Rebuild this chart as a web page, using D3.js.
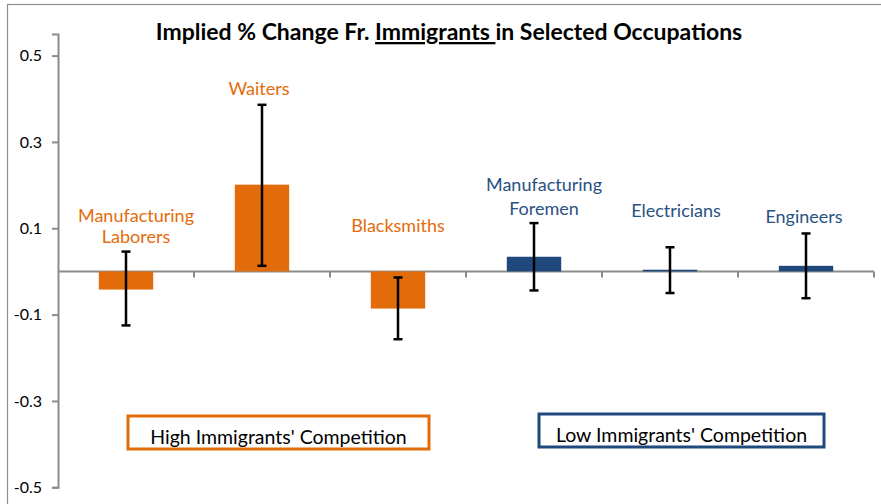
<!DOCTYPE html>
<html>
<head>
<meta charset="utf-8">
<script src="https://cdn.jsdelivr.net/npm/d3@7"></script>
<style>
  html, body { margin: 0; padding: 0; background: #fff; }
  svg { display: block; font-family: Lato, "Open Sans", sans-serif; }
</style>
</head>
<body>
<div id="chart"></div>
<script>
// occupations, point estimates and error-bar bounds
const occupations = ["Manufacturing Laborers", "Waiters", "Blacksmiths", "Manufacturing Foremen", "Electricians", "Engineers"];
const labelLines = [["Manufacturing", "Laborers"], ["Waiters"], ["Blacksmiths"], ["Manufacturing", "Foremen"], ["Electricians"], ["Engineers"]];
const groups = ["high", "high", "high", "low", "low", "low"];
const estimates = [-0.042, 0.201, -0.086, 0.034, 0.004, 0.013];
const errLower = [-0.125, 0.013, -0.157, -0.044, -0.050, -0.062];
const errUpper = [0.046, 0.386, -0.014, 0.112, 0.056, 0.088];
const yTicks = [-0.5, -0.3, -0.1, 0.1, 0.3, 0.5];
const yDomain = [-0.5, 0.55];
const groupBoxes = [
  { text: "High Immigrants' Competition", group: "high" },
  { text: "Low Immigrants' Competition", group: "low" },
];

const colors = { high: "#E36C0A", low: "#1F497D" };
const axisColor = "#8c8c8c";

// hand placement of the category labels (pixel offset from band centre, baseline y)
const labelLayout = [
  { dx: 10, y: [222, 243] },
  { dx: -3, y: [95] },
  { dx: 0, y: [232] },
  { dx: 10, y: [191, 215] },
  { dx: 6, y: [217] },
  { dx: -2, y: [223] },
];
const boxLayout = [
  { x: 128, y: 416, w: 301, h: 33 },
  { x: 539, y: 414, w: 285, h: 33 },
];

const width = 881;
const height = 504;
const plot = { left: 58, right: 874, top: 34, bottom: 487.3 };

const rows = occupations.map((name, i) => ({
  name,
  lines: labelLines[i],
  group: groups[i],
  value: estimates[i],
  lo: errLower[i],
  hi: errUpper[i],
}));

const svg = d3
  .select("#chart")
  .append("svg")
  .attr("width", width)
  .attr("height", height);

// chart frame
svg
  .append("rect")
  .attr("x", 7.5)
  .attr("y", 4.5)
  .attr("width", 1000)
  .attr("height", 1000)
  .attr("fill", "none")
  .attr("stroke", axisColor)
  .attr("stroke-width", 1.2);

const xScale = d3
  .scaleBand()
  .domain(occupations)
  .range([plot.left, plot.right])
  .paddingInner(0.6)
  .paddingOuter(0.3);

const yScale = d3.scaleLinear().domain(yDomain).range([plot.bottom, plot.top]);

// y axis
const yAxis = d3
  .axisLeft(yScale)
  .tickValues(yTicks)
  .tickSize(6)
  .tickPadding(10)
  .tickFormat((d) => d3.format(".1f")(d).replace("−", "-"));

const yAxisG = svg
  .append("g")
  .attr("transform", `translate(${plot.left}, 0)`)
  .call(yAxis);
yAxisG.select(".domain").attr("stroke", axisColor).attr("stroke-width", 2);
yAxisG.selectAll(".tick line").attr("stroke", axisColor).attr("stroke-width", 2);
yAxisG
  .selectAll(".tick text")
  .attr("fill", "#000")
  .attr("font-size", 16)
  .attr("font-family", "Lato, sans-serif");

// x axis on zero line, ticks between categories
const step = xScale.step();
const boundaries = d3.range(occupations.length + 1).map((i) => plot.left + i * step);
const xAxisG = svg.append("g");
xAxisG
  .append("line")
  .attr("x1", plot.left)
  .attr("x2", plot.right)
  .attr("y1", yScale(0))
  .attr("y2", yScale(0))
  .attr("stroke", axisColor)
  .attr("stroke-width", 2);
xAxisG
  .selectAll("line.tick")
  .data(boundaries.slice(1))
  .enter()
  .append("line")
  .attr("class", "tick")
  .attr("x1", (d) => d)
  .attr("x2", (d) => d)
  .attr("y1", yScale(0))
  .attr("y2", yScale(0) + 6)
  .attr("stroke", axisColor)
  .attr("stroke-width", 2);

// bars
svg
  .append("g")
  .selectAll("rect")
  .data(rows)
  .enter()
  .append("rect")
  .attr("x", (d) => xScale(d.name))
  .attr("width", xScale.bandwidth())
  .attr("y", (d) => yScale(Math.max(0, d.value)))
  .attr("height", (d) => Math.max(1.5, Math.abs(yScale(d.value) - yScale(0))))
  .attr("fill", (d) => colors[d.group]);

// error bars
const capHalf = 4.5;
const errG = svg
  .append("g")
  .selectAll("g")
  .data(rows)
  .enter()
  .append("g")
  .attr("stroke", "#000")
  .attr("stroke-width", 2.5);

errG
  .append("line")
  .attr("x1", (d) => xScale(d.name) + xScale.bandwidth() / 2)
  .attr("x2", (d) => xScale(d.name) + xScale.bandwidth() / 2)
  .attr("y1", (d) => yScale(d.lo))
  .attr("y2", (d) => yScale(d.hi));

["lo", "hi"].forEach((key) => {
  errG
    .append("line")
    .attr("x1", (d) => xScale(d.name) + xScale.bandwidth() / 2 - capHalf)
    .attr("x2", (d) => xScale(d.name) + xScale.bandwidth() / 2 + capHalf)
    .attr("y1", (d) => yScale(d[key]))
    .attr("y2", (d) => yScale(d[key]));
});

// category labels
const labelG = svg
  .append("g")
  .selectAll("text")
  .data(rows)
  .enter()
  .append("text")
  .attr("text-anchor", "middle")
  .attr("font-size", 18)
  .attr("fill", (d) => (d.group === "high" ? "#E46C0A" : "#2A5183"));

labelG.each(function (d, i) {
  const layout = labelLayout[i];
  const cx = xScale(d.name) + xScale.bandwidth() / 2 + layout.dx;
  d3.select(this)
    .selectAll("tspan")
    .data(d.lines)
    .enter()
    .append("tspan")
    .attr("x", cx)
    .attr("y", (line, j) => layout.y[j])
    .text((line) => line);
});

// group boxes
groupBoxes.forEach((box, i) => {
  const b = boxLayout[i];
  svg
    .append("rect")
    .attr("x", b.x)
    .attr("y", b.y)
    .attr("width", b.w)
    .attr("height", b.h)
    .attr("fill", "#fff")
    .attr("stroke", colors[box.group])
    .attr("stroke-width", 3);
  svg
    .append("text")
    .attr("x", b.x + b.w / 2)
    .attr("y", b.y + 28)
    .attr("text-anchor", "middle")
    .attr("font-size", 19.5)
    .attr("fill", "#000")
    .text(box.text);
});

// title with underlined word
const title = svg
  .append("text")
  .attr("x", 449)
  .attr("y", 40)
  .attr("text-anchor", "middle")
  .attr("font-size", 23)
  .attr("font-weight", "bold")
  .attr("fill", "#000");
title.append("tspan").text("Implied % Change Fr. ");
title.append("tspan").attr("text-decoration", "underline").text("Immigrants ");
title.append("tspan").text("in Selected Occupations");
</script>
</body>
</html>
